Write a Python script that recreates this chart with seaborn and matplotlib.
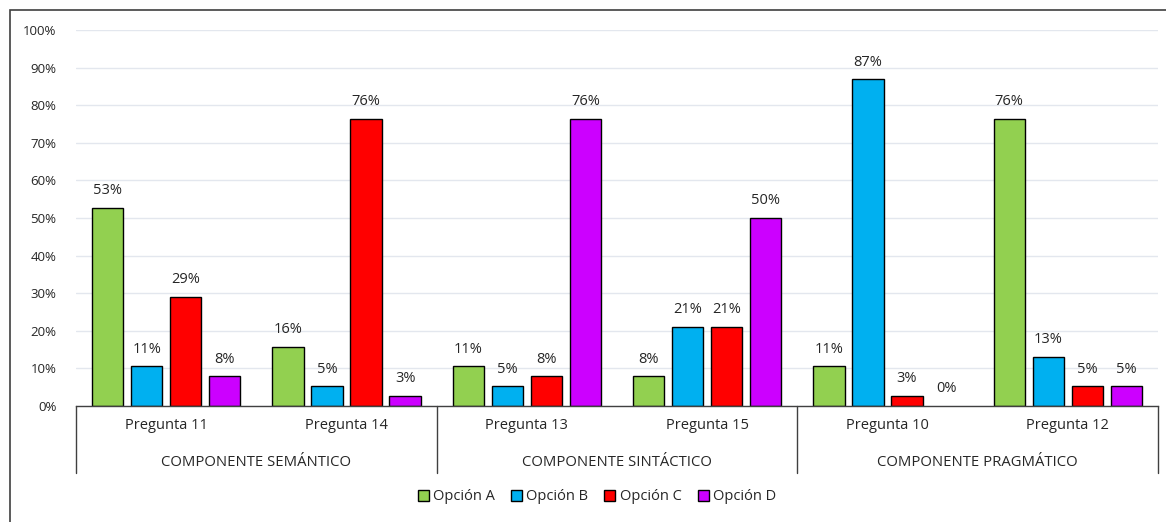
import numpy as np
import pandas as pd
import matplotlib
matplotlib.use("Agg")
import matplotlib.pyplot as plt
import matplotlib.transforms as mtransforms
from matplotlib.patches import Patch, Rectangle
import seaborn as sns

# data
preguntas = ["Pregunta 11", "Pregunta 14", "Pregunta 13", "Pregunta 15", "Pregunta 10", "Pregunta 12"]
componentes = ["COMPONENTE SEMÁNTICO", "COMPONENTE SINTÁCTICO", "COMPONENTE PRAGMÁTICO"]
opciones = ["Opción A", "Opción B", "Opción C", "Opción D"]
opcion_a = [0.5263, 0.1579, 0.1053, 0.0789, 0.1053, 0.7632]
opcion_b = [0.1053, 0.0526, 0.0526, 0.2105, 0.8684, 0.1316]
opcion_c = [0.2895, 0.7632, 0.0789, 0.2105, 0.0263, 0.0526]
opcion_d = [0.0789, 0.0263, 0.7632, 0.5000, 0.0000, 0.0526]
colores = ["#92D050", "#00B0F0", "#FF0000", "#CC00FF"]

sns.set_theme(style="white")
plt.rcParams["font.family"] = ["Open Sans", "DejaVu Sans"]
txt_color = "#262626"

rows = []
for op, vals in zip(opciones, [opcion_a, opcion_b, opcion_c, opcion_d]):
    for p, v in zip(preguntas, vals):
        rows.append({"pregunta": p, "opcion": op, "valor": v})
df = pd.DataFrame(rows)

fig = plt.figure(figsize=(11.66, 5.22), dpi=100)
ax = fig.add_axes([76 / 1166, 1 - 406 / 522, (1158 - 76) / 1166, (406 - 30) / 522])

sns.barplot(data=df, x="pregunta", y="valor", hue="opcion", order=preguntas,
            hue_order=opciones, palette=colores, saturation=1, width=0.867, gap=0.2,
            edgecolor="black", linewidth=1, errorbar=None, legend=False, ax=ax)

for cont, vals in zip(ax.containers, [opcion_a, opcion_b, opcion_c, opcion_d]):
    ax.bar_label(cont, labels=[f"{round(v * 100):.0f}%" for v in vals],
                 padding=7, fontsize=10.5, color=txt_color)
    # zero-height bars show no outline in the reference
    for bar, v in zip(cont, vals):
        if v == 0:
            bar.set_linewidth(0)

ax.set_ylim(0, 1)
ax.set_xlim(-0.5, len(preguntas) - 0.5)
ax.set_yticks(np.arange(0, 1.01, 0.1))
ax.set_yticklabels([f"{int(round(t * 100))}%" for t in np.arange(0, 1.01, 0.1)],
                   fontsize=9.5, color=txt_color)
ax.tick_params(axis="y", length=0, pad=14)
ax.yaxis.grid(True, color="#E3E7EE", linewidth=1)
ax.set_axisbelow(True)
for s in ["left", "right", "top"]:
    ax.spines[s].set_visible(False)
ax.spines["bottom"].set_color("#404040")
ax.spines["bottom"].set_linewidth(1)
ax.set_xticks([])
ax.set_xlabel("")
ax.set_ylabel("")

# multi-level category axis
trans = mtransforms.blended_transform_factory(ax.transData, ax.transAxes)
for b in [-0.5, 1.5, 3.5, 5.5]:
    ax.plot([b, b], [0, -0.178], transform=trans, color="#404040", lw=1, clip_on=False)
for i, p in enumerate(preguntas):
    ax.text(i, -0.053, p, transform=trans, ha="center", va="center",
            fontsize=10.5, color=txt_color)
for j, c in enumerate(componentes):
    ax.text(2 * j + 0.5, -0.149, c, transform=trans, ha="center", va="center",
            fontsize=10.7, color=txt_color)

handles = [Patch(facecolor=c, edgecolor="black", linewidth=1, label=o)
           for c, o in zip(colores, opciones)]
fig.legend(handles=handles, loc="center", bbox_to_anchor=(597 / 1166, 1 - 497 / 522),
           ncol=4, frameon=False, fontsize=10.5, handlelength=0.75, handleheight=0.75,
           handletextpad=0.3, columnspacing=1.1, labelcolor=txt_color)

# chart frame
fig.add_artist(Rectangle((10 / 1166, -0.1), 1.2, 1 - 10 / 522 + 0.1,
                         transform=fig.transFigure, fill=False,
                         edgecolor="#404040", linewidth=1.2))

fig.savefig("out.png", dpi=100)
